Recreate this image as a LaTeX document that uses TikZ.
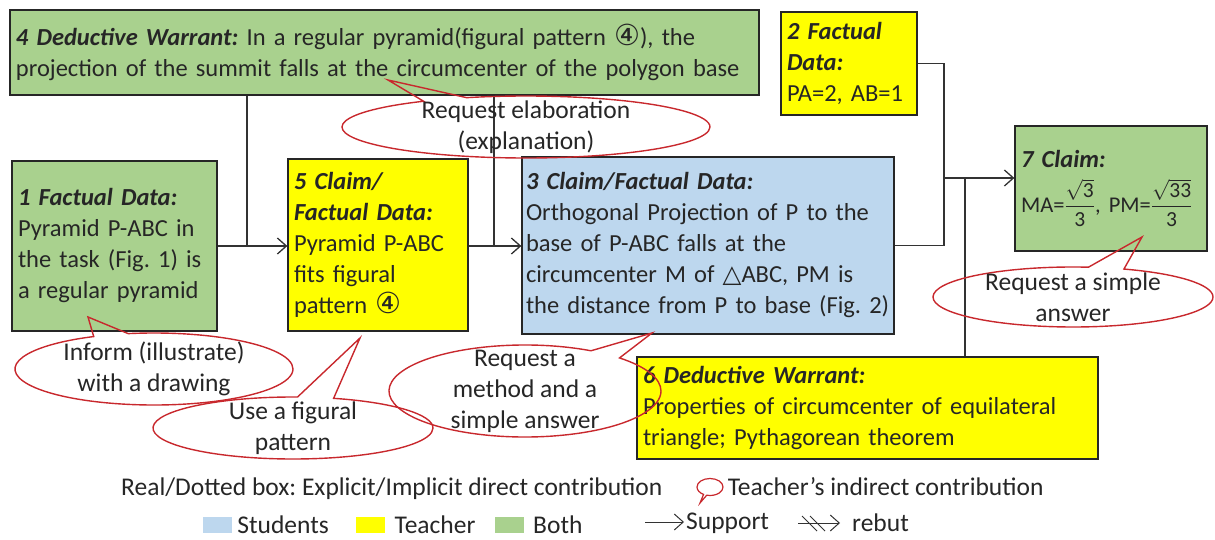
\documentclass[tikz,border=0pt]{standalone}
\usepackage{fontspec}
\setmainfont{Carlito}
\newfontfamily\symfont{DejaVu Sans}
\usepackage{amsmath}
\usepackage{xcolor}
\usetikzlibrary{shapes.callouts, arrows.meta, positioning, calc}

\definecolor{stuBlue}{HTML}{BDD7EE}
\definecolor{teachYellow}{HTML}{FFFF00}
\definecolor{bothGreen}{HTML}{A9D18E}
\definecolor{callRed}{HTML}{C8282D}

\newcommand{\argHead}[1]{\textbf{\textit{#1}}}
\newcommand{\circfour}{{\fontsize{29}{31}\symfont\char"2463}}
\newcommand{\trisym}{{\symfont\char"25B3}}
\newcommand{\fracnum}[1]{\text{\fontsize{21.5}{22}\selectfont #1}}

\tikzset{
    font=\fontsize{24.5}{31}\selectfont\frenchspacing,
    >={Straight Barb[length=9pt,width=16pt]},
    % Colors
    argBlue/.style={fill=stuBlue},
    argYellow/.style={fill=teachYellow},
    argGreen/.style={fill=bothGreen},
    % Shapes
    arg/.style={rectangle, draw=black!85, line width=1.3pt, align=left,
                inner xsep=6pt, inner ysep=3pt, text=black!85},
    bubble/.style={ellipse callout, draw=callRed, line width=1.4pt, inner sep=0pt},
    swatch/.style={rectangle, minimum width=29pt, minimum height=16pt, inner sep=0pt},
    % Flow & Labels
    flow/.style={line width=1.3pt, black!80},
    lbl/.style={align=center, inner sep=0pt, text=black!85,
                font=\fontsize{25.5}{31}\selectfont\frenchspacing}
}

\begin{document}
\begin{tikzpicture}[x=1pt, y=-1pt]
\useasboundingbox (0,0) rectangle (1215,540);

% argument boxes
\node[arg, argGreen, minimum width=749pt, minimum height=85pt, text width=737pt] (warrant4) at (384.5,52.5)
    {\argHead{4 Deductive Warrant:} In a regular pyramid(figural pattern \circfour), the\\
     projection of the summit falls at the circumcenter of the polygon base};
\node[arg, argYellow, minimum width=136pt, minimum height=103pt, text width=124pt] (data2) at (849,63.5)
    {\argHead{2 Factual}\\\argHead{Data:}\\PA=2, AB=1};
\node[arg, argGreen, minimum width=205pt, minimum height=170pt, text width=193pt] (data1) at (114.5,246)
    {\argHead{1 Factual Data:}\\Pyramid P-ABC in\\the task (Fig. 1) is\\a regular pyramid};
\node[arg, argYellow, minimum width=180pt, minimum height=172pt, text width=168pt] (claim5) at (378,245)
    {\argHead{5 Claim/}\\\argHead{Factual Data:}\\Pyramid P-ABC\\fits figural\\pattern \circfour};
\node[arg, argBlue, minimum width=372pt, minimum height=177pt, inner xsep=4pt, text width=364pt] (claim3) at (708,245.5)
    {\argHead{3 Claim/Factual Data:}\\Orthogonal Projection of P to the\\base of P-ABC falls at the\\
     circumcenter M of \trisym ABC, PM is\\the distance from P to base (Fig. 2)};
\node[arg, argGreen, minimum width=192pt, minimum height=125pt, text width=180pt] (claim7) at (1111,188.5)
    {\argHead{7 Claim:}\\[10pt]{\fontsize{22.5}{26}\selectfont MA=$\dfrac{\sqrt{\fracnum{3}}}{\fracnum{3}}$,
     PM=$\dfrac{\sqrt{\fracnum{33}}}{\fracnum{3}}$}};
\node[arg, argYellow, minimum width=461pt, minimum height=102pt, text width=449pt] (warrant6) at (867.5,408)
    {\argHead{6 Deductive Warrant:}\\Properties of circumcenter of equilateral\\triangle; Pythagorean theorem};

% support lines
\coordinate (j1) at (247,246);
\coordinate (j5) at (494,246);
\coordinate (j2) at (944,178);
\coordinate (j6) at (965,178);

\draw[flow, ->] (data1.east) -- (data1.east -| claim5.west);
\draw[flow] (warrant4.south -| j1) -- (j1);
\draw[flow, ->] (claim5.east |- j5) -- (j5 -| claim3.west);
\draw[flow] (warrant4.south -| j5) -- (j5);
\draw[flow] (data2.east) -| (j2);
\draw[flow] (claim3.east) -| (j2);
\draw[flow, ->] (j2) -- (j2 -| claim7.west);
\draw[flow] (warrant6.north -| j6) -- (j6);

% teacher bubbles
\node[bubble, minimum width=368pt, minimum height=62pt, callout absolute pointer={(388,80)}] (ask4) at (526,127) {};
\node[lbl] at (ask4) {Request elaboration\\(explanation)};
\node[bubble, minimum width=278pt, minimum height=72pt, callout absolute pointer={(88,317)}] (inform1) at (154,369) {};
\node[lbl] at (inform1) {Inform (illustrate)\\with a drawing};
\node[bubble, minimum width=280pt, minimum height=62pt, callout absolute pointer={(360,338)}] (figural5) at (293,428) {};
\node[lbl] at (figural5) {Use a figural\\pattern};
\node[bubble, minimum width=272pt, minimum height=92pt, callout absolute pointer={(652,333)}] (method3) at (525,391) {};
\node[lbl] at (method3) {Request a\\method and a\\simple answer};
\node[bubble, minimum width=280pt, minimum height=60pt, callout absolute pointer={(1142,237)}] (simple7) at (1073,297) {};
\node[lbl] at (simple7) {Request a simple\\answer};

% legend
\node[lbl, anchor=west] (legReal) at (121,489) {Real/Dotted box: Explicit/Implicit direct contribution};
\node[bubble, minimum width=26pt, minimum height=17pt, line width=1.2pt,
      callout absolute pointer={(700,503)}] (legBubble) at (710,487) {};
\node[lbl, anchor=west, right=4pt of legBubble] (legIndirect) {Teacher's indirect contribution};

\node[swatch, fill=stuBlue] (sqBlue) at (217.5,525) {};
\node[lbl, right=5pt of sqBlue] (legStudents) {Students};
\node[swatch, fill=teachYellow, right=27pt of legStudents] (sqYellow) {};
\node[lbl, right=9pt of sqYellow] (legTeacher) {Teacher};
\node[swatch, fill=bothGreen, right=19pt of legTeacher] (sqGreen) {};
\node[lbl, right=9pt of sqGreen] (legBoth) {Both};

\coordinate (sup1) at (645,522);
\coordinate (sup2) at (684,522);
\draw[flow, line width=1pt, ->] (sup1) -- (sup2);
\node[lbl, anchor=west] (legSupport) at (686,523) {Support};

\coordinate (rb1) at (798,523);
\coordinate (rb2) at (840,523);
\draw[flow, line width=1pt, ->] (rb1) -- (rb2);
\draw[flow, line width=1pt] ($(rb1)+(4,-7)$) -- ++(15,15);
\draw[flow, line width=1pt] ($(rb1)+(12,-7)$) -- ++(15,15);
\node[lbl, anchor=west] (legRebut) at (852,523) {rebut};

\end{tikzpicture}
\end{document}
